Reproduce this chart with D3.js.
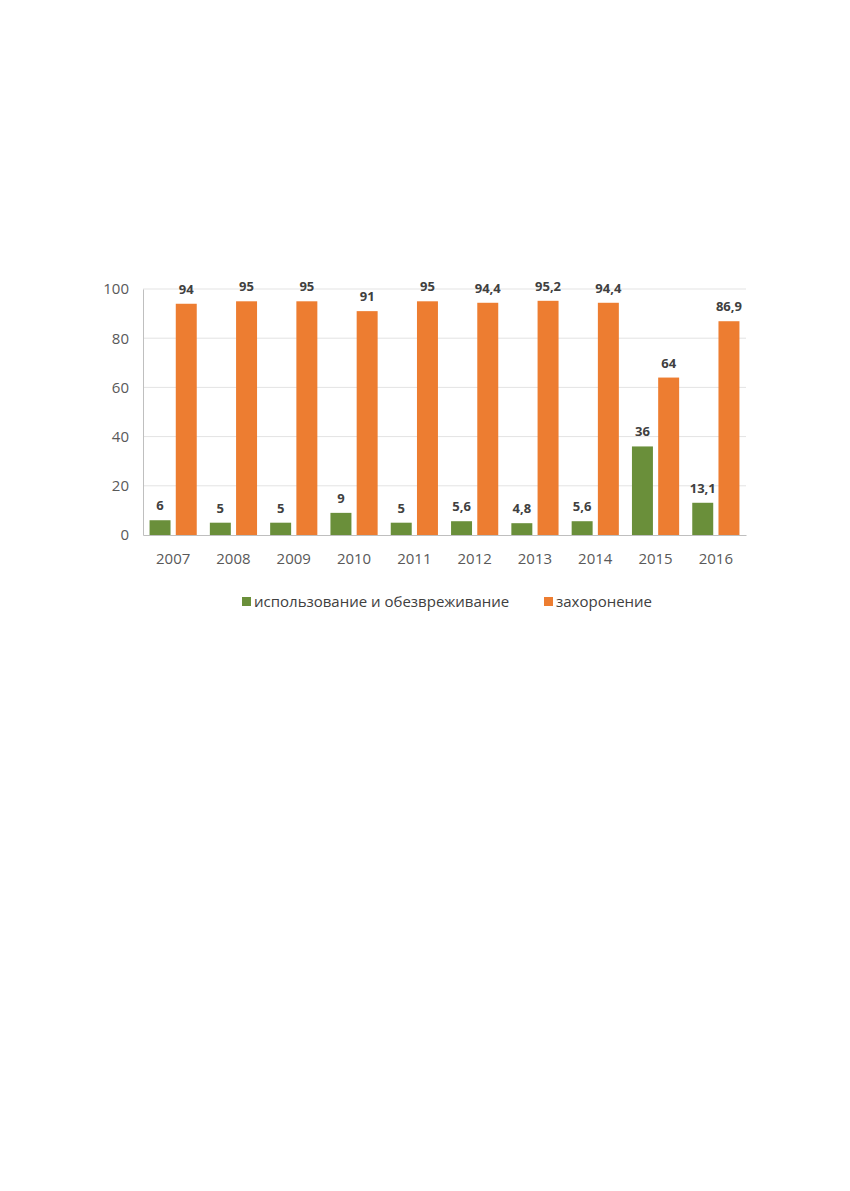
<!DOCTYPE html>
<html><head><meta charset="utf-8">
<script src="https://cdn.jsdelivr.net/npm/d3@7"></script>
<style>body{margin:0;background:#fff}</style>
</head><body>
<div id="chart"></div>
<script>
const years = ["2007","2008","2009","2010","2011","2012","2013","2014","2015","2016"];
const used = [6, 5, 5, 9, 5, 5.6, 4.8, 5.6, 36, 13.1];
const buried = [94, 95, 95, 91, 95, 94.4, 95.2, 94.4, 64, 86.9];
const yTicks = [0, 20, 40, 60, 80, 100];
const seriesNames = ["использование и обезвреживание", "захоронение"];
const colors = ["#6a8f3a", "#ed7d31"];

const svg = d3.select("#chart").append("svg").attr("width", 850).attr("height", 1191);
const plotLeft = 143, plotRight = 746, plotTop = 289, plotBottom = 535;

const x = d3.scaleBand().domain(years).range([plotLeft, plotRight]);
const x1 = d3.scaleBand().domain([0, 1]).range([0, x.bandwidth()]).paddingInner(0.2).paddingOuter(0.25);
const y = d3.scaleLinear().domain([0, 100]).range([plotBottom, plotTop]);
const fmt = v => String(v).replace(".", ",");

// gridlines
svg.append("g").selectAll("line").data(yTicks.slice(1)).join("line")
  .attr("x1", plotLeft).attr("x2", plotRight).attr("y1", d => y(d)).attr("y2", d => y(d))
  .attr("stroke", "#e3e3e3");

const yAxis = svg.append("g").attr("transform", `translate(${plotLeft},0)`)
  .call(d3.axisLeft(y).tickValues(yTicks).tickSize(0).tickPadding(14));
yAxis.select(".domain").attr("stroke", "#bfbfbf");
yAxis.selectAll("text").attr("font-family", "Open Sans, sans-serif").attr("font-size", 15).attr("fill", "#595959");

const xAxis = svg.append("g").attr("transform", `translate(0,${plotBottom})`)
  .call(d3.axisBottom(x).tickSize(0).tickPadding(18));
xAxis.select(".domain").attr("stroke", "#bfbfbf");
xAxis.selectAll("text").attr("font-family", "Open Sans, sans-serif").attr("font-size", 15).attr("fill", "#595959");

[used, buried].forEach((vals, s) => {
  const g = svg.append("g");
  g.selectAll("rect").data(vals).join("rect")
    .attr("x", (d, i) => x(years[i]) + x1(s)).attr("width", x1.bandwidth())
    .attr("y", d => y(d)).attr("height", d => plotBottom - y(d))
    .attr("fill", colors[s]);
  g.selectAll("text").data(vals).join("text")
    .attr("x", (d, i) => x(years[i]) + x1(s) + x1.bandwidth() / 2)
    .attr("y", d => y(d) - 10)
    .attr("text-anchor", "middle")
    .attr("font-family", "Open Sans, sans-serif").attr("font-weight", "bold")
    .attr("font-size", 13).attr("fill", "#404040")
    .text(d => fmt(d));
});

// legend
const legX = [242, 544];
seriesNames.forEach((n, s) => {
  svg.append("rect").attr("x", legX[s]).attr("y", 597).attr("width", 9).attr("height", 9).attr("fill", colors[s]);
  svg.append("text").attr("x", legX[s] + 12).attr("y", 607)
    .attr("font-family", "Open Sans, sans-serif").attr("font-size", 15).attr("fill", "#404040").text(n);
});
</script>
</body></html>
